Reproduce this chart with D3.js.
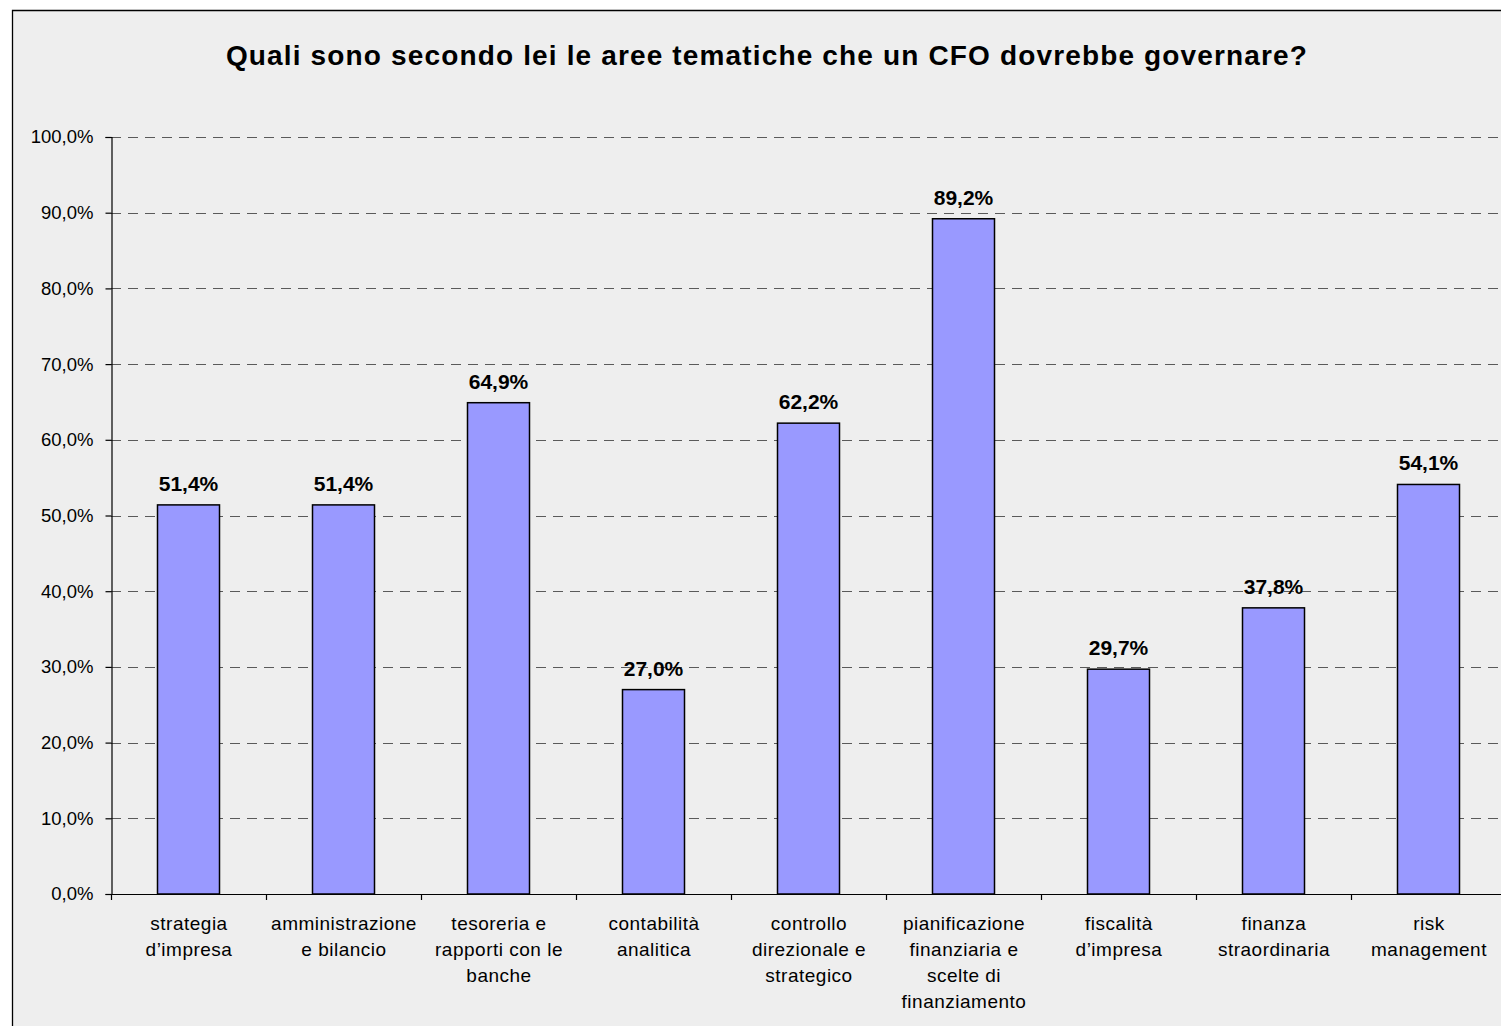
<!DOCTYPE html>
<html><head><meta charset="utf-8">
<script src="https://cdn.jsdelivr.net/npm/d3@7"></script>
<style>body{margin:0;background:#fff}svg{display:block}text{font-family:"Liberation Sans",Arial,sans-serif}</style>
</head><body>
<svg id="c" width="1501" height="1030"></svg>
<script>
const title = "Quali sono secondo lei le aree tematiche che un CFO dovrebbe governare?";
const categories = [
  ["strategia","d’impresa"],
  ["amministrazione","e bilancio"],
  ["tesoreria e","rapporti con le","banche"],
  ["contabilità","analitica"],
  ["controllo","direzionale e","strategico"],
  ["pianificazione","finanziaria e","scelte di","finanziamento"],
  ["fiscalità","d’impresa"],
  ["finanza","straordinaria"],
  ["risk","management"]
];
const values = [51.4, 51.4, 64.9, 27.0, 62.2, 89.2, 29.7, 37.8, 54.1];
const yTicks = [0,10,20,30,40,50,60,70,80,90,100];

(function(){
const svg = d3.select("#c");
const fmt = v => v.toFixed(1).replace(".", ",") + "%";

// chart background & border
svg.append("rect").attr("x",12).attr("y",10).attr("width",1520).attr("height",1016).attr("fill","#eeeeee");
svg.append("path").attr("d","M12.5,1026 V10.5 H1501").attr("fill","none").attr("stroke","#000").attr("stroke-width",1.3);

const pl = 111, pr = 1506, pt = 137, pb = 894;
const x = d3.scaleBand().domain(d3.range(categories.length)).range([pl, pr]).paddingInner(0.6).paddingOuter(0.3);
const y = d3.scaleLinear().domain([0,100]).range([pb, pt]);

// gridlines
svg.append("g").selectAll("line").data(yTicks.slice(1)).join("line")
  .attr("x1", pl).attr("x2", pr).attr("y1", d=>Math.round(y(d))+0.5).attr("y2", d=>Math.round(y(d))+0.5)
  .attr("stroke","#5a5a5a").attr("stroke-width",1.2).attr("stroke-dasharray","10,7");

// y axis
const ya = svg.append("g").attr("transform",`translate(${pl+0.5},0)`)
  .call(d3.axisLeft(y).tickValues(yTicks).tickFormat(fmt).tickSize(6).tickPadding(12));
ya.select(".domain").attr("stroke","#000").attr("stroke-width",1.2);
ya.selectAll(".tick line").attr("stroke","#000").attr("stroke-width",1.2);
ya.selectAll("text").attr("font-size",18.5).attr("fill","#000").attr("font-family","Liberation Sans, Arial, sans-serif");

// bars
svg.append("g").selectAll("rect").data(values).join("rect")
  .attr("x",(d,i)=>x(i)).attr("width",x.bandwidth())
  .attr("y",d=>y(d)).attr("height",d=>y(0)-y(d))
  .attr("fill","#9999ff").attr("stroke","#000").attr("stroke-width",1.5);

// x axis
const step = x.step();
const boundaries = d3.range(categories.length+1).map(i => pl + i*step);
svg.append("line").attr("x1",pl).attr("x2",pr).attr("y1",pb+0.5).attr("y2",pb+0.5).attr("stroke","#000").attr("stroke-width",1.2);
svg.append("g").selectAll("line").data(boundaries).join("line")
  .attr("x1",d=>d+0.5).attr("x2",d=>d+0.5).attr("y1",pb).attr("y2",pb+6).attr("stroke","#000").attr("stroke-width",1.2);

// data labels
svg.append("g").selectAll("text").data(values).join("text")
  .attr("x",(d,i)=>x(i)+x.bandwidth()/2).attr("y",d=>y(d)-14)
  .attr("text-anchor","middle").attr("font-size",21).attr("font-weight","bold").text(fmt);

// category labels
const cl = svg.append("g").selectAll("text").data(categories).join("text")
  .attr("text-anchor","middle").attr("font-size",19).attr("letter-spacing",0.5).attr("fill","#000");
cl.each(function(lines,i){
  const t = d3.select(this);
  lines.forEach((ln,j)=>t.append("tspan").attr("x",x(i)+x.bandwidth()/2+0.5).attr("y",930+j*26).text(ln));
});

// title
svg.append("text").attr("x",767).attr("y",65).attr("text-anchor","middle")
  .attr("font-size",28).attr("font-weight","bold").attr("letter-spacing",1.15).attr("fill","#000").text(title);
})();
</script>
</body></html>
